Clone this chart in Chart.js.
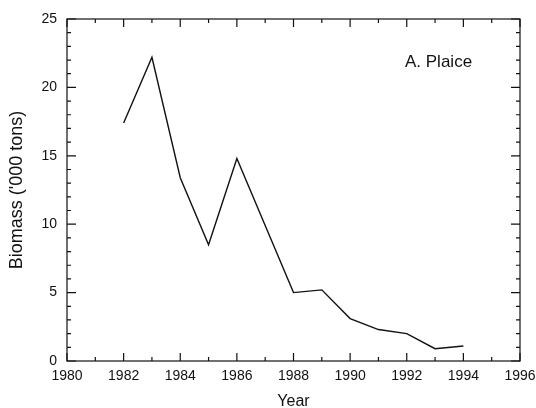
<!DOCTYPE html>
<html>
<head>
<meta charset="utf-8">
<script src="https://cdn.jsdelivr.net/npm/chart.js@4"></script>
<style>
  html, body { margin: 0; padding: 0; background: #fff; }
  #wrap { width: 536px; height: 408px; }
</style>
</head>
<body>
<div id="wrap"><canvas id="biomassChart"></canvas></div>
<script>
// Plaice biomass by survey year
const years = [1982, 1983, 1984, 1985, 1986, 1987, 1988, 1989, 1990, 1991, 1992, 1993, 1994];
const biomass = [17.4, 22.2, 13.4, 8.5, 14.8, 9.9, 5.0, 5.2, 3.1, 2.3, 2.0, 0.9, 1.1];

// axis ranges and steps
const xRange = [1980, 1996];
const xLabelStep = 2;
const yRange = [0, 25];
const yLabelStep = 5;

const speciesLabel = 'A. Plaice';
const yTitle = "Biomass ('000 tons)";
const xTitle = 'Year';

const fontFamily = "'Liberation Sans', Arial, sans-serif";

// box around the plot with inward ticks on all four sides
const frameTicks = {
    id: 'frameTicks',
    afterDraw(chart) {
        const ctx = chart.ctx;
        const area = chart.chartArea;
        const xs = chart.scales.x;
        const ys = chart.scales.y;
        ctx.save();
        ctx.strokeStyle = '#111';
        ctx.lineWidth = 1.2;
        ctx.strokeRect(area.left, area.top, area.right - area.left, area.bottom - area.top);

        ctx.beginPath();
        for (let v = xRange[0]; v <= xRange[1]; v++) {
            const px = xs.getPixelForValue(v);
            const len = v % xLabelStep === 0 ? 8 : 4;
            ctx.moveTo(px, area.bottom);
            ctx.lineTo(px, area.bottom - len);
            ctx.moveTo(px, area.top);
            ctx.lineTo(px, area.top + len);
        }
        for (let v = yRange[0]; v <= yRange[1]; v++) {
            const py = ys.getPixelForValue(v);
            const len = v % yLabelStep === 0 ? 9 : 4;
            ctx.moveTo(area.left, py);
            ctx.lineTo(area.left + len, py);
            ctx.moveTo(area.right, py);
            ctx.lineTo(area.right - len, py);
        }
        ctx.stroke();

        // species label, upper right
        ctx.fillStyle = '#111';
        ctx.font = '17px ' + fontFamily;
        ctx.textAlign = 'left';
        ctx.textBaseline = 'middle';
        ctx.fillText(speciesLabel, 405, 62);
        ctx.restore();
    }
};

const ctx = document.getElementById('biomassChart').getContext('2d');

const chart = new Chart(ctx, {
    type: 'line',
    data: {
        datasets: [{
            data: years.map((y, i) => ({ x: y, y: biomass[i] })),
            borderColor: '#111',
            borderWidth: 1.4,
            pointRadius: 0,
            tension: 0,
            fill: false
        }]
    },
    options: {
        responsive: true,
        maintainAspectRatio: false,
        animation: false,
        layout: {
            padding: { top: 19, right: 0, bottom: 0, left: 0 }
        },
        plugins: {
            legend: { display: false },
            tooltip: { enabled: false }
        },
        scales: {
            x: {
                type: 'linear',
                min: xRange[0],
                max: xRange[1],
                afterFit(scale) {
                    scale.height = 47;
                    scale.paddingRight = 16;
                },
                grid: { display: false, drawTicks: false },
                border: { display: false },
                ticks: {
                    stepSize: xLabelStep,
                    padding: 7,
                    color: '#111',
                    font: { family: fontFamily, size: 14 },
                    maxRotation: 0,
                    callback: v => String(v)
                },
                title: {
                    display: true,
                    text: xTitle,
                    color: '#111',
                    font: { family: fontFamily, size: 16, lineHeight: 0.8 },
                    padding: 0
                }
            },
            y: {
                min: yRange[0],
                max: yRange[1],
                afterFit(scale) { scale.width = 67; },
                grid: { display: false, drawTicks: false },
                border: { display: false },
                ticks: {
                    stepSize: yLabelStep,
                    padding: 10,
                    color: '#111',
                    font: { family: fontFamily, size: 14 }
                },
                title: {
                    display: true,
                    text: yTitle,
                    color: '#111',
                    font: { family: fontFamily, size: 18 },
                    padding: { top: 6, bottom: 0 }
                }
            }
        }
    },
    plugins: [frameTicks]
});
</script>
</body>
</html>
